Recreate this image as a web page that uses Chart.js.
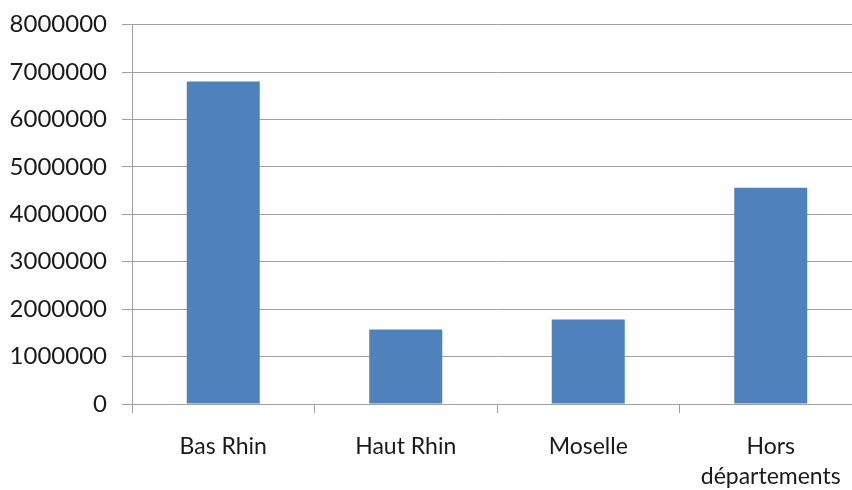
<!DOCTYPE html>
<html>
<head>
<meta charset="utf-8">
<script src="https://cdn.jsdelivr.net/npm/chart.js@4"></script>
<style>
html,body{margin:0;padding:0;background:#fff;overflow:hidden;}
#wrap{width:872px;height:490px;position:relative;}
</style>
</head>
<body>
<div id="wrap"><canvas id="c"></canvas></div>
<script>
const categories = ["Bas Rhin", "Haut Rhin", "Moselle", ["Hors", "départements"]];
const values = [6800000, 1570000, 1780000, 4560000];
const yTicks = [0, 1000000, 2000000, 3000000, 4000000, 5000000, 6000000, 7000000, 8000000];

const gridColor = '#a0a0a0';
const textColor = '#1a1a1a';

new Chart(document.getElementById('c'), {
  type: 'bar',
  data: {
    labels: categories,
    datasets: [{
      data: values,
      backgroundColor: '#4F81BD',
      borderWidth: 0,
      categoryPercentage: 1.0,
      barPercentage: 0.4
    }]
  },
  options: {
    responsive: true,
    maintainAspectRatio: false,
    animation: false,
    layout: { padding: { left: 10, right: 10, top: 0, bottom: 0 } },
    plugins: { legend: { display: false }, tooltip: { enabled: false } },
    scales: {
      x: {
        offset: true,
        afterFit: (s) => { s.height = 86; },
        grid: { offset: true, drawOnChartArea: false, drawTicks: true, tickLength: 9, color: gridColor, lineWidth: 1 },
        border: { color: gridColor, width: 1 },
        ticks: { color: textColor, font: { family: 'Lato', size: 23, lineHeight: 1.3 }, padding: 19, maxRotation: 0, autoSkip: false }
      },
      y: {
        min: 0,
        max: 8000000,
        afterFit: (s) => { s.width = 122; },
        afterBuildTicks: (axis) => { axis.ticks = yTicks.map(v => ({ value: v })); },
        grid: { color: gridColor, lineWidth: 1, tickLength: 10 },
        border: { color: gridColor, width: 1 },
        ticks: { color: textColor, font: { family: 'Lato', size: 24, lineHeight: 0.8 }, padding: 15, callback: (v) => String(v) }
      }
    }
  }
});
</script>
</body>
</html>
